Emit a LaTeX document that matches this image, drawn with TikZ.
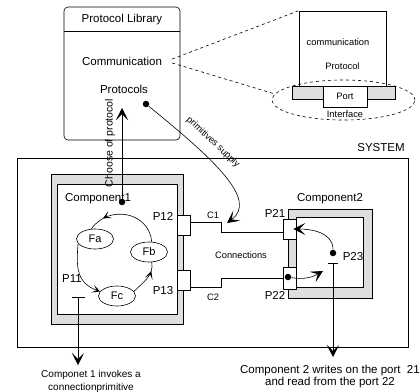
\documentclass[tikz,border=0pt]{standalone}
\usepackage{fontspec}
\setmainfont{Liberation Sans}
\usetikzlibrary{arrows.meta,shapes.geometric,decorations.markings}

\begin{document}
\begin{tikzpicture}[x=1pt, y=1pt, line width=0.6pt,
  lbl/.style={font=\fontsize{11.5}{13}\selectfont, inner sep=1pt},
  sml/.style={font=\fontsize{9.3}{11}\selectfont, inner sep=1pt},
  portbox/.style={draw, fill=white, minimum width=13pt, minimum height=20pt, inner sep=0pt},
  dotnode/.style={circle, fill=black, inner sep=0pt, minimum size=6.5pt},
  func/.style={draw, ellipse, fill=white, minimum width=37pt, minimum height=20pt, inner sep=0pt, font=\fontsize{11}{13}\selectfont},
  hatch/.style={draw, fill=black!13},
  big/.style={-{Stealth[length=12pt, width=12pt, inset=6pt]}},
  cyc/.style={decoration={markings, mark=at position #1 with {\arrow{Stealth[length=8pt, width=8pt, inset=4.5pt]}}}, postaction={decorate}}]
\useasboundingbox (0,0) rectangle (420,-391);

% Protocol library
\node[draw, rounded corners=4pt, minimum width=116pt, minimum height=133pt] (lib) at (122,-73.5) {};
\draw ([yshift=-25pt]lib.north west) -- ([yshift=-25pt]lib.north east);
\node[lbl] (libtitle) at (122,-20) {Protocol Library};
\node[lbl] (comm) at (122,-61) {Communication};
\node[lbl] (prot) at (124,-89) {Protocols};

% Zoom on the communication protocol
\node[draw, minimum width=87pt, minimum height=75pt] (cbox) at (342.5,-48.5) {};
\node[sml] (ctext) at (338,-42) {communication};
\node[sml] (ptext) at (342.5,-66) {Protocol};
\draw[hatch] (292,-86) rectangle (395,-99);
\node[draw, fill=white, minimum width=44pt, minimum height=21pt, inner sep=0pt, sml] (port) at (345,-96.5) {Port};
\node[sml] (itext) at (345,-114) {Interface};
\node[draw, dashed, ellipse, minimum width=143pt, minimum height=40pt, inner sep=0pt] (iface) at (343.5,-100) {};
\draw[dashed] ([xshift=9pt, yshift=2pt]comm.east) -- (cbox.north west);
\draw[dashed] ([xshift=9pt, yshift=-2pt]comm.east) -- (iface.175);

% System
\node[draw, minimum width=391pt, minimum height=189pt, inner sep=0pt] (sys) at (212.5,-252.5) {};
\node[lbl] (systext) at (381,-148) {SYSTEM};

% Component 1
\draw[hatch] (51,-174) rectangle (183,-324);
\draw[fill=white] (57,-184) rectangle (177,-314);
\node[lbl] (c1text) at (98,-199) {Component1};
\node[func] (fa) at (95,-239) {Fa};
\node[func] (fb) at (149,-252) {Fb};
\node[func] (fc) at (117,-296) {Fc};
\draw[cyc=0.8] (fb.75) to[out=95, in=55, looseness=1.25] (fa.110);
\draw[-{Stealth[length=8pt, width=8pt, inset=4.5pt]}] (fa.195) to[out=265, in=160, looseness=1.2] (fc.165);
\draw[cyc=0.75] (fc.15) to[out=45, in=-80] (fb.-75);

% Component 2
\draw[hatch] (288,-209) rectangle (372,-298);
\draw[fill=white] (296,-217) rectangle (363,-287);
\node[lbl] (c2text) at (330,-199) {Component2};

% Ports
\node[portbox] (p12) at (183.5,-225.5) {};
\node[portbox] (p13) at (183.5,-280) {};
\node[portbox] (p21) at (289.5,-229) {};
\node[portbox, minimum height=22pt] (p22) at (289.5,-278) {};
\node[lbl] (p12text) at (163,-216) {P12};
\node[lbl] (p13text) at (163,-291) {P13};
\node[lbl] (p21text) at (275,-213) {P21};
\node[lbl] (p22text) at (275,-295) {P22};
\node[lbl] (p11text) at (72,-279) {P11};
\node[lbl] (p23text) at (353,-257) {P23};

% Connections
\draw ([yshift=3pt]p12.east) -- ++(31,0) |- ([yshift=-3pt]p21.west);
\draw ([yshift=-7pt]p13.east) -- ++(31,0) |- (p22.west);
\node[sml] (c1) at (213,-215) {C1};
\node[sml] (c2) at (213,-297) {C2};
\node[sml] (conn) at (241,-255) {Connections};

% Choose of protocol
\node[dotnode] (cdot) at (122,-202) {};
\coordinate (choose) at (122,-108);
\draw[big] (cdot) -- (choose);
\node[font=\fontsize{10.5}{12}\selectfont, rotate=90, inner sep=1pt] (choosetext) at (110,-143) {Choose of protocol};

% Primitives supply
\node[dotnode] (pdot) at (146,-104) {};
\coordinate (supply) at (227,-223);
\draw[big] (pdot) .. controls (215,-160) and (258,-200) .. (supply);
\node[sml, rotate=-43] (supplytext) at (213,-142) {primitives supply};

% P11 invokes a primitive
\coordinate (p11l) at (72,-297);
\coordinate (p11r) at (85,-297);
\coordinate (p11) at (78,-297);
\coordinate (invoke) at (78,-365);
\draw (p11l) -- (p11r);
\draw[big] (p11) -- (invoke);
\node[font=\fontsize{10}{12.5}\selectfont, align=center, anchor=north, inner sep=1pt] (invtext) at (91,-369) {Componet 1 invokes a\\connectionprimitive};

% P23 writes and reads
\node[dotnode] (p23dot) at (333,-253) {};
\node[dotnode] (p22dot) at (288,-277) {};
\coordinate (read) at (323,-271);
\draw[big] (p23dot) to[out=90, in=0] ([xshift=-3pt]p21.east);
\draw[big] (p22dot) to[out=-10, in=210] (read);
\coordinate (p23l) at (328,-263);
\coordinate (p23r) at (338,-263);
\coordinate (p23) at (333,-263);
\coordinate (write) at (333,-357);
\draw (p23l) -- (p23r);
\draw[big] (p23) -- (write);
\node[font=\fontsize{11.5}{12}\selectfont, align=center, anchor=north, inner sep=1pt] (writetext) at (330,-364) {Component 2 writes on the port\ \ 21\\and read from the port 22};
\end{tikzpicture}
\end{document}
